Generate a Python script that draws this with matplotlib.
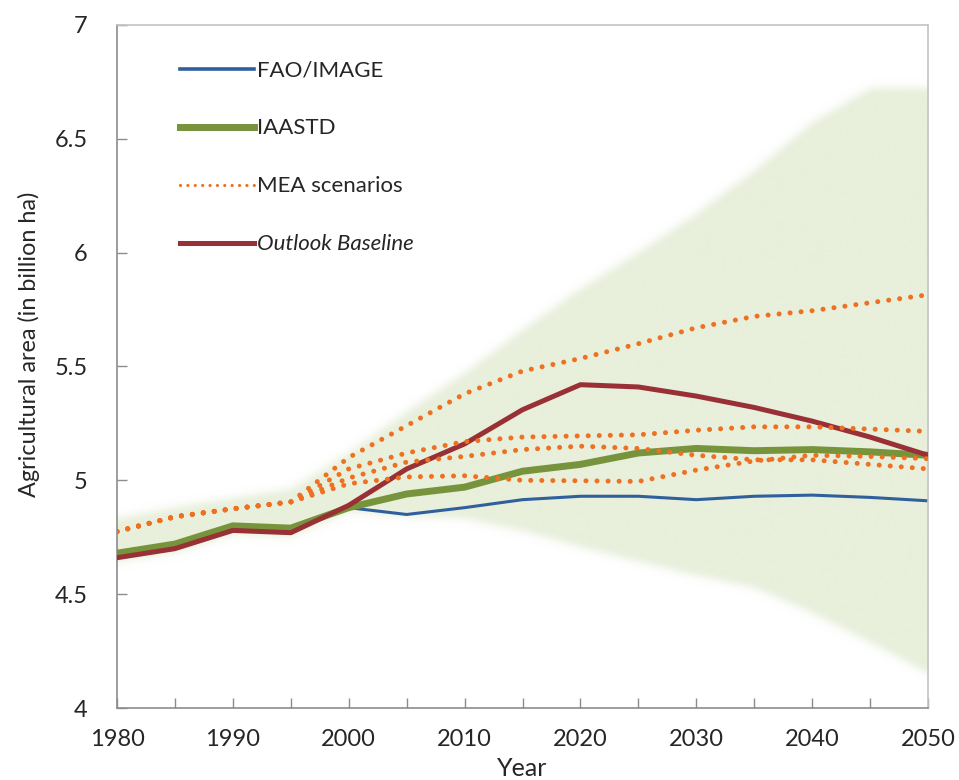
import matplotlib

matplotlib.use("Agg")

import matplotlib.pyplot as plt
import numpy as np
from matplotlib.lines import Line2D


years = [1980, 1985, 1990, 1995, 2000, 2005, 2010, 2015, 2020, 2025, 2030, 2035, 2040, 2045, 2050]
outlook_baseline = [4.66, 4.70, 4.78, 4.77, 4.89, 5.05, 5.16, 5.31, 5.42, 5.41, 5.37, 5.32, 5.26, 5.19, 5.11]
iaastd = [4.68, 4.72, 4.80, 4.79, 4.88, 4.94, 4.97, 5.04, 5.07, 5.12, 5.14, 5.13, 5.135, 5.125, 5.11]

fao_years = [2000, 2005, 2010, 2015, 2020, 2025, 2030, 2035, 2040, 2045, 2050]
fao_image = [4.88, 4.85, 4.88, 4.915, 4.93, 4.93, 4.915, 4.93, 4.935, 4.925, 4.91]

# four MEA scenarios, identical up to 1995
mea_a = [4.775, 4.84, 4.875, 4.905, 5.10, 5.24, 5.38, 5.48, 5.535, 5.60, 5.67, 5.72, 5.745, 5.78, 5.815]
mea_b = [4.775, 4.84, 4.875, 4.905, 5.05, 5.12, 5.17, 5.19, 5.195, 5.20, 5.22, 5.235, 5.235, 5.225, 5.215]
mea_c = [4.775, 4.84, 4.875, 4.905, 5.01, 5.08, 5.105, 5.135, 5.15, 5.14, 5.11, 5.09, 5.09, 5.07, 5.05]
mea_d = [4.775, 4.84, 4.875, 4.905, 4.985, 5.015, 5.02, 5.00, 4.998, 4.995, 5.045, 5.085, 5.11, 5.105, 5.095]

# uncertainty band
band_low = [4.64, 4.68, 4.76, 4.75, 4.86, 4.84, 4.83, 4.775, 4.705, 4.64, 4.58, 4.525, 4.415, 4.285, 4.15]
band_high = [4.83, 4.88, 4.92, 4.96, 5.12, 5.30, 5.47, 5.66, 5.84, 6.00, 6.17, 6.36, 6.57, 6.72, 6.72]

y_ticks = [4, 4.5, 5, 5.5, 6, 6.5, 7]
y_tick_labels = ["4", "4.5", "5", "5.5", "6", "6.5", "7"]

BLUE = "#30609c"
GREEN = "#77933c"
ORANGE = "#ee7020"
RED = "#983035"
BAND = np.array([232, 239, 219]) / 255.0

plt.rcParams["font.family"] = ["Lato", "DejaVu Sans"]

fig = plt.figure(figsize=(9.59, 7.80), dpi=100)
ax = fig.add_axes([0.122, 0.0923, 0.8457, 0.8757])


def soft_band(ax, x, low, high, sigma=4.0):
    xs = np.linspace(1980, 2050, 811)
    vs = np.linspace(4, 7, 683)
    lo = np.interp(xs, x, low)
    hi = np.interp(xs, x, high)
    V = vs[:, None]
    mask = ((V >= lo[None, :]) & (V <= hi[None, :])).astype(float)
    r = int(3 * sigma)
    k = np.exp(-0.5 * (np.arange(-r, r + 1) / sigma) ** 2)
    k /= k.sum()
    padded = np.pad(mask, ((r, r), (r, r)), mode="edge")
    padded = np.apply_along_axis(lambda c: np.convolve(c, k, mode="same"), 0, padded)
    padded = np.apply_along_axis(lambda c: np.convolve(c, k, mode="same"), 1, padded)
    alpha = padded[r:-r, r:-r]
    rgba = np.zeros(mask.shape + (4,))
    rgba[..., :3] = BAND
    rgba[..., 3] = alpha
    ax.imshow(rgba, extent=(1980, 2050, 4, 7), origin="lower", aspect="auto",
              interpolation="bilinear", zorder=0)


soft_band(ax, years, band_low, band_high)

dot_style = dict(color=ORANGE, lw=3.6, linestyle=(0, (0.01, 2.2)), dash_capstyle="round", zorder=4)

ax.plot(fao_years, fao_image, color=BLUE, lw=2.2, zorder=2)
ax.plot(years, iaastd, color=GREEN, lw=5.0, zorder=3)
ax.plot(years, outlook_baseline, color=RED, lw=3.6, zorder=3.5)
for series in (mea_a, mea_b, mea_c, mea_d):
    ax.plot(years, series, **dot_style)

ax.set_xlim(1980, 2050)
ax.set_ylim(4, 7)
ax.set_xticks(range(1980, 2051, 10))
ax.set_xticks(range(1985, 2050, 10), minor=True)
ax.set_yticks(y_ticks)
ax.set_yticklabels(y_tick_labels)
ax.tick_params(which="both", direction="in", length=7, width=1, color="#8c8c8c",
               labelsize=17, labelcolor="#262626")
ax.tick_params(axis="x", pad=15)
ax.tick_params(axis="y", pad=21)

for side in ("left", "bottom"):
    ax.spines[side].set_color("#8c8c8c")
    ax.spines[side].set_linewidth(1.2)
for side in ("top", "right"):
    ax.spines[side].set_color("#c4c4c4")
    ax.spines[side].set_linewidth(1.2)

ax.set_xlabel("Year", fontsize=18, color="#262626")
ax.xaxis.set_label_coords(0.5, -0.072)
ax.set_ylabel("Agricultural area (in billion ha)", fontsize=16.8, color="#262626")
ax.yaxis.set_label_coords(-0.095, 0.533)

handles = [
    Line2D([], [], color=BLUE, lw=2.6),
    Line2D([], [], color=GREEN, lw=5.0),
    Line2D([], [], color=ORANGE, lw=2.3, linestyle=(0, (0.01, 2.3)), dash_capstyle="round"),
    Line2D([], [], color=RED, lw=3.6),
]
labels = ["FAO/IMAGE", "IAASTD", "MEA scenarios", "Outlook Baseline"]
leg = ax.legend(handles, labels, loc="upper left", bbox_to_anchor=(0.078, 0.948),
                frameon=False, fontsize=16, handlelength=3.3, handletextpad=0.15,
                labelspacing=1.71, borderaxespad=0, borderpad=0)
leg.get_texts()[3].set_fontstyle("italic")
for t in leg.get_texts():
    t.set_color("#262626")

fig.savefig("out.png", dpi=100)
